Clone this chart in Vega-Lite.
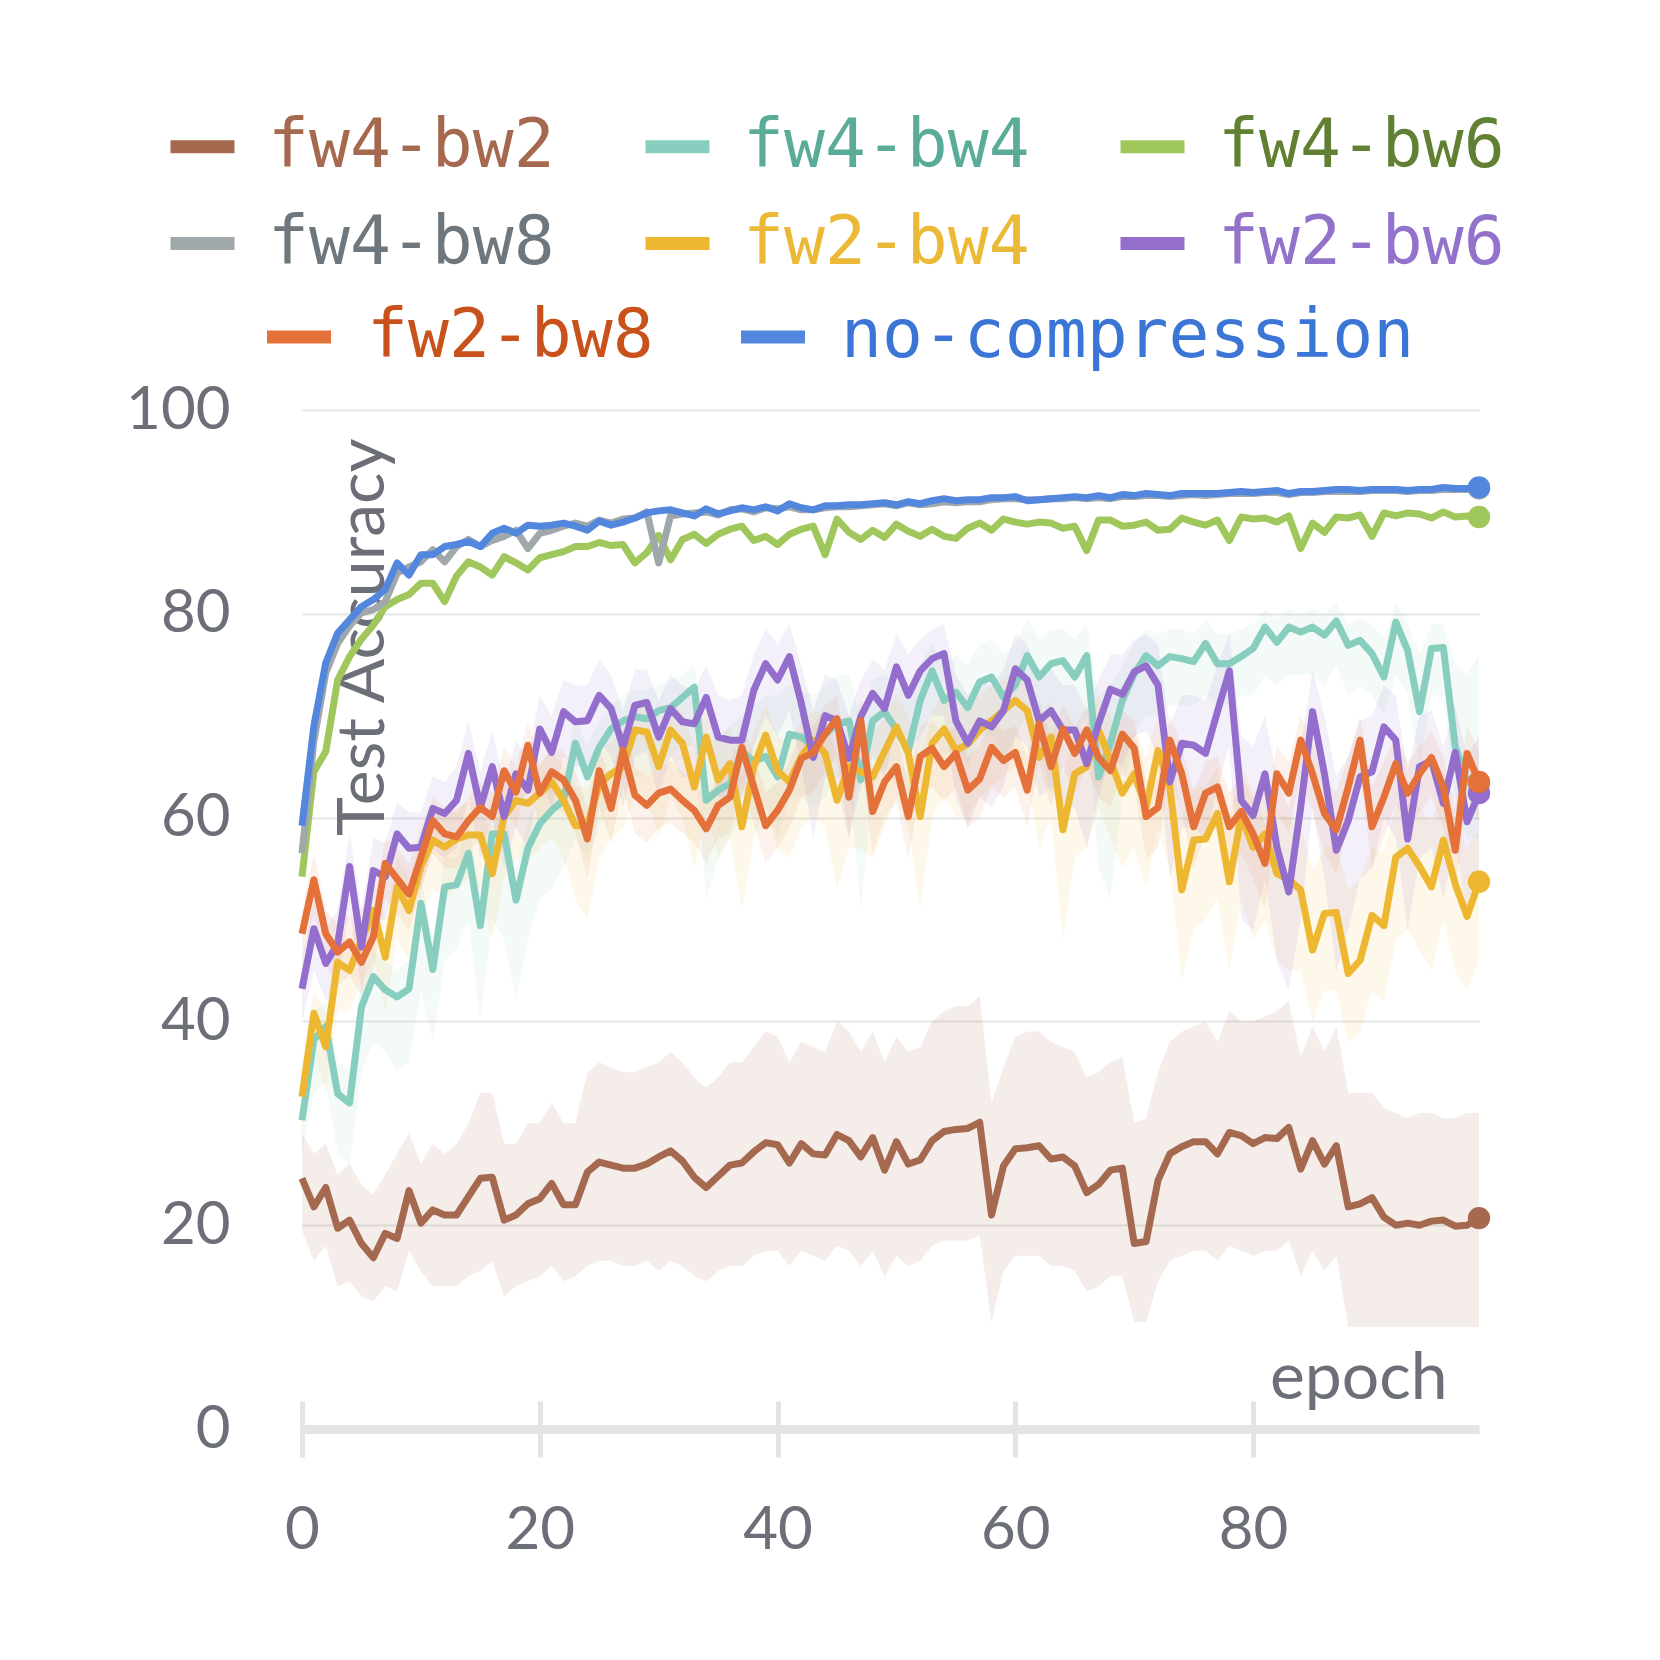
{
"$schema": "https://vega.github.io/schema/vega-lite/v6.json",
"width": 1177, "height": 1019,
"autosize": {"type": "none"},
"padding": {"left": 302, "top": 410, "right": 181, "bottom": 231},
"background": "white",
"config": {"view": {"stroke": null}},
"datasets": {"d": [
{"e":0,"fw4-bw2":24.6,"fw4-bw4":30.3,"fw4-bw6":54.2,"fw4-bw8":56.5,"fw2-bw4":32.6,"fw2-bw6":43.2,"fw2-bw8":48.6,"no-compression":59.2,"l1":19.5,"h1":29,"l2":27,"h2":33,"l5":29,"h5":36,"l6":40,"h6":46,"l7":45.5,"h7":51},
{"e":1,"fw4-bw2":21.8,"fw4-bw4":38.2,"fw4-bw6":64.5,"fw4-bw8":67.5,"fw2-bw4":40.8,"fw2-bw6":49.1,"fw2-bw8":53.9,"no-compression":69.0,"l1":16.5,"h1":27,"l2":33,"h2":41,"l5":37,"h5":43,"l6":45,"h6":52,"l7":50.5,"h7":56.5},
{"e":2,"fw4-bw2":23.7,"fw4-bw4":39.5,"fw4-bw6":66.5,"fw4-bw8":74.2,"fw2-bw4":37.5,"fw2-bw6":45.7,"fw2-bw8":48.6,"no-compression":75.2,"l1":18,"h1":28,"l2":34,"h2":42,"l5":33,"h5":41,"l6":42,"h6":49,"l7":45.5,"h7":51},
{"e":3,"fw4-bw2":19.7,"fw4-bw4":32.9,"fw4-bw6":73.5,"fw4-bw8":77.1,"fw2-bw4":45.8,"fw2-bw6":47.6,"fw2-bw8":46.8,"no-compression":78.1,"l1":14,"h1":25,"l2":27,"h2":36,"l5":41,"h5":49,"l6":44,"h6":51,"l7":43.5,"h7":49.5},
{"e":4,"fw4-bw2":20.5,"fw4-bw4":32.0,"fw4-bw6":75.8,"fw4-bw8":78.8,"fw2-bw4":45.0,"fw2-bw6":55.2,"fw2-bw8":47.8,"no-compression":79.4,"l1":14.5,"h1":26,"l2":26,"h2":35,"l5":41,"h5":48,"l6":51,"h6":58.5,"l7":44.5,"h7":50.5},
{"e":5,"fw4-bw2":18.2,"fw4-bw4":41.4,"fw4-bw6":77.5,"fw4-bw8":80.1,"fw2-bw4":48.0,"fw2-bw6":47.3,"fw2-bw8":45.8,"no-compression":80.7,"l1":13,"h1":24,"l2":35,"h2":44,"l5":44,"h5":51,"l6":43,"h6":51,"l7":42.5,"h7":48.5},
{"e":6,"fw4-bw2":16.8,"fw4-bw4":44.4,"fw4-bw6":78.9,"fw4-bw8":80.4,"fw2-bw4":50.9,"fw2-bw6":54.8,"fw2-bw8":48.3,"no-compression":81.4,"l1":12.5,"h1":23,"l2":38,"h2":47,"l5":46,"h5":54,"l6":50,"h6":58,"l7":45,"h7":51},
{"e":7,"fw4-bw2":19.2,"fw4-bw4":43.1,"fw4-bw6":80.7,"fw4-bw8":81.2,"fw2-bw4":46.3,"fw2-bw6":54.2,"fw2-bw8":55.5,"no-compression":82.4,"l1":14,"h1":25,"l2":37,"h2":46,"l5":41,"h5":50,"l6":50,"h6":57.5,"l7":52,"h7":58},
{"e":8,"fw4-bw2":18.7,"fw4-bw4":42.4,"fw4-bw6":81.4,"fw4-bw8":84.0,"fw2-bw4":53.2,"fw2-bw6":58.4,"fw2-bw8":54.0,"no-compression":85.0,"l1":13.5,"h1":27,"l2":35,"h2":45,"l5":48,"h5":56,"l6":54,"h6":61.5,"l7":50.5,"h7":57},
{"e":9,"fw4-bw2":23.4,"fw4-bw4":43.2,"fw4-bw6":81.9,"fw4-bw8":84.6,"fw2-bw4":50.9,"fw2-bw6":57.0,"fw2-bw8":52.5,"no-compression":83.8,"l1":17.5,"h1":29,"l2":36,"h2":46,"l5":46,"h5":54,"l6":53,"h6":60.5,"l7":49,"h7":55.5},
{"e":10,"fw4-bw2":20.2,"fw4-bw4":51.6,"fw4-bw6":83.0,"fw4-bw8":85.1,"fw2-bw4":55.2,"fw2-bw6":57.1,"fw2-bw8":56.1,"no-compression":85.8,"l1":15.5,"h1":26,"l2":43,"h2":54,"l5":50,"h5":58,"l6":53,"h6":60.5,"l7":53,"h7":59},
{"e":11,"fw4-bw2":21.5,"fw4-bw4":45.1,"fw4-bw6":83.0,"fw4-bw8":86.3,"fw2-bw4":57.8,"fw2-bw6":60.9,"fw2-bw8":59.7,"no-compression":85.8,"l1":14,"h1":28,"l2":38,"h2":48,"l5":53,"h5":60.5,"l6":57,"h6":64,"l7":56.5,"h7":62},
{"e":12,"fw4-bw2":21.0,"fw4-bw4":53.2,"fw4-bw6":81.2,"fw4-bw8":85.1,"fw2-bw4":57.1,"fw2-bw6":60.4,"fw2-bw8":58.4,"no-compression":86.6,"l1":14,"h1":27,"l2":46,"h2":56,"l5":52,"h5":60,"l6":56,"h6":63.5,"l7":55,"h7":61},
{"e":13,"fw4-bw2":21.0,"fw4-bw4":53.4,"fw4-bw6":83.7,"fw4-bw8":86.6,"fw2-bw4":57.9,"fw2-bw6":61.7,"fw2-bw8":58.1,"no-compression":86.8,"l1":14,"h1":28,"l2":47,"h2":56,"l5":53,"h5":61,"l6":57,"h6":65,"l7":55,"h7":60.5},
{"e":14,"fw4-bw2":22.8,"fw4-bw4":56.5,"fw4-bw6":85.1,"fw4-bw8":87.3,"fw2-bw4":58.3,"fw2-bw6":66.3,"fw2-bw8":59.7,"no-compression":87.1,"l1":15,"h1":30,"l2":50,"h2":59,"l5":54,"h5":61.5,"l6":62,"h6":69.5,"l7":56.5,"h7":62},
{"e":15,"fw4-bw2":24.6,"fw4-bw4":49.4,"fw4-bw6":84.6,"fw4-bw8":86.6,"fw2-bw4":58.3,"fw2-bw6":61.0,"fw2-bw8":61.0,"no-compression":86.6,"l1":15.5,"h1":33,"l2":40,"h2":53,"l5":53,"h5":61.5,"l6":56,"h6":64.5,"l7":58,"h7":63.5},
{"e":16,"fw4-bw2":24.7,"fw4-bw4":58.4,"fw4-bw6":83.8,"fw4-bw8":87.2,"fw2-bw4":54.5,"fw2-bw6":65.0,"fw2-bw8":60.1,"no-compression":87.9,"l1":16.5,"h1":33,"l2":50,"h2":61,"l5":48,"h5":58,"l6":60,"h6":68.5,"l7":57,"h7":62.5},
{"e":17,"fw4-bw2":20.5,"fw4-bw4":58.4,"fw4-bw6":85.6,"fw4-bw8":87.6,"fw2-bw4":60.1,"fw2-bw6":60.1,"fw2-bw8":64.6,"no-compression":88.4,"l1":13,"h1":28,"l2":48,"h2":61,"l5":54,"h5":63,"l6":55,"h6":63.5,"l7":61,"h7":67},
{"e":18,"fw4-bw2":21.0,"fw4-bw4":51.9,"fw4-bw6":85.0,"fw4-bw8":88.2,"fw2-bw4":61.7,"fw2-bw6":64.3,"fw2-bw8":62.5,"no-compression":87.9,"l1":14,"h1":28,"l2":42,"h2":55,"l5":56,"h5":64.5,"l6":59,"h6":67.5,"l7":59,"h7":65},
{"e":19,"fw4-bw2":22.1,"fw4-bw4":57.0,"fw4-bw6":84.3,"fw4-bw8":86.4,"fw2-bw4":61.4,"fw2-bw6":62.7,"fw2-bw8":67.1,"no-compression":88.7,"l1":14.5,"h1":30,"l2":48,"h2":60,"l5":56,"h5":64.5,"l6":57,"h6":66,"l7":63.5,"h7":69.5},
{"e":20,"fw4-bw2":22.6,"fw4-bw4":59.4,"fw4-bw6":85.5,"fw4-bw8":87.9,"fw2-bw4":62.4,"fw2-bw6":68.7,"fw2-bw8":62.4,"no-compression":88.6,"l1":15,"h1":30,"l2":52,"h2":62,"l5":57,"h5":65.5,"l6":64,"h6":72,"l7":59,"h7":65},
{"e":21,"fw4-bw2":24.1,"fw4-bw4":60.7,"fw4-bw6":85.8,"fw4-bw8":88.2,"fw2-bw4":63.5,"fw2-bw6":66.4,"fw2-bw8":64.5,"no-compression":88.7,"l1":16,"h1":32,"l2":53,"h2":63,"l5":58,"h5":66.5,"l6":61,"h6":70,"l7":61,"h7":67},
{"e":22,"fw4-bw2":22.0,"fw4-bw4":61.7,"fw4-bw6":86.1,"fw4-bw8":88.6,"fw2-bw4":61.7,"fw2-bw6":70.4,"fw2-bw8":63.7,"no-compression":88.9,"l1":14.5,"h1":30,"l2":55,"h2":64,"l5":56,"h5":65,"l6":66,"h6":73.5,"l7":60.5,"h7":66.5},
{"e":23,"fw4-bw2":22.0,"fw4-bw4":67.3,"fw4-bw6":86.6,"fw4-bw8":88.9,"fw2-bw4":59.2,"fw2-bw6":69.4,"fw2-bw8":61.7,"no-compression":88.6,"l1":15,"h1":30,"l2":58,"h2":70,"l5":52,"h5":63,"l6":65,"h6":73,"l7":58.5,"h7":64.5},
{"e":24,"fw4-bw2":25.2,"fw4-bw4":64.0,"fw4-bw6":86.6,"fw4-bw8":88.6,"fw2-bw4":59.2,"fw2-bw6":69.5,"fw2-bw8":57.9,"no-compression":88.2,"l1":16,"h1":35,"l2":56,"h2":67,"l5":50,"h5":63,"l6":65,"h6":73,"l7":54,"h7":61},
{"e":25,"fw4-bw2":26.2,"fw4-bw4":66.9,"fw4-bw6":87.0,"fw4-bw8":89.2,"fw2-bw4":63.3,"fw2-bw6":72.0,"fw2-bw8":64.6,"no-compression":89.1,"l1":16.5,"h1":36,"l2":59,"h2":69.5,"l5":56,"h5":66.5,"l6":67.5,"h6":75.5,"l7":61,"h7":67},
{"e":26,"fw4-bw2":25.9,"fw4-bw4":68.7,"fw4-bw6":86.7,"fw4-bw8":88.9,"fw2-bw4":64.3,"fw2-bw6":70.7,"fw2-bw8":60.9,"no-compression":88.7,"l1":16.5,"h1":35.5,"l2":62,"h2":71,"l5":58,"h5":67.5,"l6":66,"h6":74,"l7":57.5,"h7":63.5},
{"e":27,"fw4-bw2":25.6,"fw4-bw4":69.5,"fw4-bw6":86.8,"fw4-bw8":89.3,"fw2-bw4":65.0,"fw2-bw6":66.9,"fw2-bw8":66.6,"no-compression":89.0,"l1":16,"h1":35,"l2":64,"h2":72,"l5":59,"h5":68,"l6":61,"h6":70.5,"l7":63,"h7":69},
{"e":28,"fw4-bw2":25.6,"fw4-bw4":69.9,"fw4-bw6":85.0,"fw4-bw8":89.4,"fw2-bw4":68.6,"fw2-bw6":71.0,"fw2-bw8":62.2,"no-compression":89.4,"l1":16,"h1":35,"l2":64,"h2":72.5,"l5":62,"h5":71,"l6":66,"h6":74.5,"l7":58.5,"h7":65},
{"e":29,"fw4-bw2":26.0,"fw4-bw4":69.7,"fw4-bw6":86.0,"fw4-bw8":90.0,"fw2-bw4":68.4,"fw2-bw6":71.3,"fw2-bw8":61.2,"no-compression":89.9,"l1":16.5,"h1":35.5,"l2":64,"h2":72.5,"l5":62,"h5":71,"l6":66.5,"h6":74.5,"l7":57.5,"h7":64},
{"e":30,"fw4-bw2":26.7,"fw4-bw4":70.5,"fw4-bw6":87.7,"fw4-bw8":85.0,"fw2-bw4":65.0,"fw2-bw6":67.9,"fw2-bw8":62.4,"no-compression":90.1,"l1":15.5,"h1":36,"l2":65,"h2":73,"l5":58,"h5":68.5,"l6":62,"h6":71.5,"l7":59,"h7":65},
{"e":31,"fw4-bw2":27.3,"fw4-bw4":70.8,"fw4-bw6":85.3,"fw4-bw8":89.6,"fw2-bw4":68.6,"fw2-bw6":70.7,"fw2-bw8":62.8,"no-compression":90.2,"l1":16.5,"h1":37,"l2":66,"h2":73.5,"l5":62,"h5":71,"l6":66,"h6":74,"l7":59.5,"h7":65.5},
{"e":32,"fw4-bw2":26.3,"fw4-bw4":71.8,"fw4-bw6":87.3,"fw4-bw8":89.8,"fw2-bw4":67.3,"fw2-bw6":69.4,"fw2-bw8":61.7,"no-compression":89.9,"l1":16,"h1":36,"l2":67,"h2":74,"l5":60,"h5":70.5,"l6":64,"h6":73,"l7":58.5,"h7":64.5},
{"e":33,"fw4-bw2":24.7,"fw4-bw4":72.8,"fw4-bw6":87.8,"fw4-bw8":89.9,"fw2-bw4":63.0,"fw2-bw6":69.2,"fw2-bw8":60.7,"no-compression":89.6,"l1":15,"h1":34.5,"l2":67,"h2":75,"l5":55,"h5":67,"l6":64,"h6":72.5,"l7":57.5,"h7":63.5},
{"e":34,"fw4-bw2":23.7,"fw4-bw4":61.7,"fw4-bw6":86.9,"fw4-bw8":90.0,"fw2-bw4":67.9,"fw2-bw6":71.8,"fw2-bw8":58.9,"no-compression":90.3,"l1":14.5,"h1":33.5,"l2":52,"h2":67,"l5":61,"h5":71,"l6":67,"h6":75,"l7":55.5,"h7":62},
{"e":35,"fw4-bw2":24.8,"fw4-bw4":62.7,"fw4-bw6":87.8,"fw4-bw8":89.7,"fw2-bw4":63.7,"fw2-bw6":67.9,"fw2-bw8":61.2,"no-compression":89.8,"l1":15.5,"h1":34.5,"l2":56,"h2":68,"l5":56,"h5":67.5,"l6":62,"h6":72,"l7":58,"h7":64},
{"e":36,"fw4-bw2":25.9,"fw4-bw4":63.3,"fw4-bw6":88.3,"fw4-bw8":90.2,"fw2-bw4":65.3,"fw2-bw6":67.6,"fw2-bw8":62.0,"no-compression":90.1,"l1":16,"h1":36,"l2":58,"h2":69,"l5":58,"h5":69,"l6":62,"h6":71.5,"l7":58.5,"h7":65},
{"e":37,"fw4-bw2":26.1,"fw4-bw4":66.5,"fw4-bw6":88.6,"fw4-bw8":90.3,"fw2-bw4":59.1,"fw2-bw6":67.6,"fw2-bw8":66.9,"no-compression":90.4,"l1":16,"h1":36,"l2":60,"h2":70,"l5":51,"h5":64,"l6":62,"h6":72,"l7":63,"h7":69.5},
{"e":38,"fw4-bw2":27.2,"fw4-bw4":65.5,"fw4-bw6":87.2,"fw4-bw8":90.0,"fw2-bw4":65.0,"fw2-bw6":72.5,"fw2-bw8":63.0,"no-compression":90.2,"l1":17,"h1":37.5,"l2":60,"h2":71,"l5":58,"h5":68.5,"l6":67,"h6":76,"l7":59.5,"h7":66},
{"e":39,"fw4-bw2":28.1,"fw4-bw4":66.0,"fw4-bw6":87.6,"fw4-bw8":90.4,"fw2-bw4":68.1,"fw2-bw6":75.1,"fw2-bw8":59.2,"no-compression":90.5,"l1":17.5,"h1":39,"l2":61,"h2":72,"l5":61,"h5":71,"l6":70,"h6":78.5,"l7":55.5,"h7":62.5},
{"e":40,"fw4-bw2":27.9,"fw4-bw4":64.0,"fw4-bw6":86.8,"fw4-bw8":90.3,"fw2-bw4":64.6,"fw2-bw6":73.5,"fw2-bw8":60.7,"no-compression":90.1,"l1":17.5,"h1":38.5,"l2":58,"h2":72,"l5":57,"h5":68,"l6":68,"h6":77,"l7":57,"h7":63.5},
{"e":41,"fw4-bw2":26.1,"fw4-bw4":68.2,"fw4-bw6":87.8,"fw4-bw8":90.5,"fw2-bw4":63.5,"fw2-bw6":75.8,"fw2-bw8":62.7,"no-compression":90.8,"l1":16,"h1":36,"l2":62,"h2":73,"l5":56,"h5":67.5,"l6":70.5,"h6":79,"l7":59,"h7":65.5},
{"e":42,"fw4-bw2":28.0,"fw4-bw4":67.9,"fw4-bw6":88.3,"fw4-bw8":90.2,"fw2-bw4":66.0,"fw2-bw6":71.2,"fw2-bw8":65.8,"no-compression":90.4,"l1":17.5,"h1":38,"l2":62,"h2":72.5,"l5":59,"h5":69.5,"l6":65,"h6":75,"l7":62,"h7":68.5},
{"e":43,"fw4-bw2":27.0,"fw4-bw4":67.0,"fw4-bw6":88.6,"fw4-bw8":90.2,"fw2-bw4":67.6,"fw2-bw6":65.9,"fw2-bw8":66.4,"no-compression":90.2,"l1":17,"h1":37.5,"l2":61,"h2":72,"l5":60,"h5":70.5,"l6":58,"h6":70.5,"l7":62.5,"h7":69},
{"e":44,"fw4-bw2":26.9,"fw4-bw4":68.2,"fw4-bw6":85.8,"fw4-bw8":90.4,"fw2-bw4":66.3,"fw2-bw6":70.0,"fw2-bw8":68.2,"no-compression":90.6,"l1":16.5,"h1":37,"l2":62,"h2":73,"l5":59,"h5":70,"l6":64,"h6":74,"l7":64.5,"h7":71},
{"e":45,"fw4-bw2":28.9,"fw4-bw4":69.2,"fw4-bw6":89.3,"fw4-bw8":90.5,"fw2-bw4":61.7,"fw2-bw6":69.5,"fw2-bw8":69.7,"no-compression":90.6,"l1":18,"h1":40,"l2":64,"h2":74,"l5":53,"h5":66,"l6":63,"h6":73.5,"l7":66,"h7":72},
{"e":46,"fw4-bw2":28.3,"fw4-bw4":69.5,"fw4-bw6":88.0,"fw4-bw8":90.5,"fw2-bw4":65.0,"fw2-bw6":65.8,"fw2-bw8":62.0,"no-compression":90.7,"l1":17.5,"h1":39,"l2":64,"h2":74,"l5":57,"h5":68.5,"l6":58,"h6":70,"l7":58,"h7":65},
{"e":47,"fw4-bw2":26.7,"fw4-bw4":63.7,"fw4-bw6":87.3,"fw4-bw8":90.6,"fw2-bw4":64.5,"fw2-bw6":69.9,"fw2-bw8":69.5,"no-compression":90.7,"l1":16,"h1":37,"l2":51,"h2":70,"l5":57,"h5":68,"l6":63,"h6":73.5,"l7":66,"h7":72},
{"e":48,"fw4-bw2":28.6,"fw4-bw4":69.5,"fw4-bw6":88.2,"fw4-bw8":90.7,"fw2-bw4":64.0,"fw2-bw6":72.2,"fw2-bw8":60.6,"no-compression":90.8,"l1":17.5,"h1":39,"l2":63,"h2":73.5,"l5":56,"h5":68,"l6":66,"h6":75.5,"l7":56.5,"h7":64},
{"e":49,"fw4-bw2":25.4,"fw4-bw4":70.4,"fw4-bw6":87.5,"fw4-bw8":90.8,"fw2-bw4":66.5,"fw2-bw6":70.7,"fw2-bw8":63.5,"no-compression":90.9,"l1":15,"h1":36,"l2":65,"h2":74,"l5":59,"h5":70,"l6":64,"h6":74.5,"l7":60,"h7":66.5},
{"e":50,"fw4-bw2":28.2,"fw4-bw4":68.6,"fw4-bw6":88.8,"fw4-bw8":90.6,"fw2-bw4":68.9,"fw2-bw6":74.8,"fw2-bw8":65.0,"no-compression":90.7,"l1":17,"h1":38.5,"l2":63,"h2":73,"l5":62,"h5":72,"l6":69,"h6":78,"l7":61.5,"h7":68},
{"e":51,"fw4-bw2":26.0,"fw4-bw4":66.6,"fw4-bw6":88.1,"fw4-bw8":90.9,"fw2-bw4":66.3,"fw2-bw6":72.0,"fw2-bw8":60.1,"no-compression":91.0,"l1":16,"h1":37,"l2":60,"h2":72,"l5":59,"h5":70,"l6":66,"h6":76,"l7":56,"h7":63.5},
{"e":52,"fw4-bw2":26.4,"fw4-bw4":71.5,"fw4-bw6":87.6,"fw4-bw8":90.7,"fw2-bw4":60.1,"fw2-bw6":74.4,"fw2-bw8":66.0,"no-compression":90.8,"l1":16.5,"h1":37.5,"l2":66,"h2":75,"l5":51,"h5":65,"l6":68,"h6":77.5,"l7":62.5,"h7":69},
{"e":53,"fw4-bw2":28.3,"fw4-bw4":74.4,"fw4-bw6":88.3,"fw4-bw8":90.8,"fw2-bw4":67.3,"fw2-bw6":75.6,"fw2-bw8":66.8,"no-compression":91.1,"l1":18,"h1":40,"l2":68,"h2":77,"l5":60,"h5":70.5,"l6":70,"h6":78.5,"l7":63,"h7":69.5},
{"e":54,"fw4-bw2":29.2,"fw4-bw4":71.5,"fw4-bw6":87.6,"fw4-bw8":91.0,"fw2-bw4":68.7,"fw2-bw6":76.1,"fw2-bw8":65.0,"no-compression":91.3,"l1":18.5,"h1":41,"l2":66,"h2":75,"l5":62,"h5":72,"l6":70,"h6":79,"l7":61.5,"h7":68},
{"e":55,"fw4-bw2":29.4,"fw4-bw4":72.3,"fw4-bw6":87.4,"fw4-bw8":90.9,"fw2-bw4":66.6,"fw2-bw6":69.5,"fw2-bw8":66.3,"no-compression":91.1,"l1":18.5,"h1":41.5,"l2":67,"h2":76,"l5":60,"h5":70.5,"l6":62,"h6":74,"l7":63,"h7":69},
{"e":56,"fw4-bw2":29.5,"fw4-bw4":70.8,"fw4-bw6":88.4,"fw4-bw8":91.0,"fw2-bw4":67.2,"fw2-bw6":67.3,"fw2-bw8":62.7,"no-compression":91.2,"l1":18.5,"h1":41.5,"l2":65,"h2":75,"l5":60,"h5":71,"l6":59,"h6":72,"l7":59,"h7":66},
{"e":57,"fw4-bw2":30.1,"fw4-bw4":73.3,"fw4-bw6":88.9,"fw4-bw8":91.0,"fw2-bw4":68.6,"fw2-bw6":69.5,"fw2-bw8":63.8,"no-compression":91.2,"l1":19,"h1":42.5,"l2":68,"h2":77,"l5":62,"h5":72,"l6":62,"h6":73.5,"l7":60,"h7":67},
{"e":58,"fw4-bw2":21.0,"fw4-bw4":73.8,"fw4-bw6":88.2,"fw4-bw8":91.2,"fw2-bw4":69.5,"fw2-bw6":68.9,"fw2-bw8":66.9,"no-compression":91.4,"l1":10.5,"h1":32,"l2":68,"h2":77.5,"l5":63,"h5":73,"l6":61,"h6":73,"l7":63,"h7":69.5},
{"e":59,"fw4-bw2":25.8,"fw4-bw4":71.8,"fw4-bw6":89.3,"fw4-bw8":91.3,"fw2-bw4":70.5,"fw2-bw6":70.5,"fw2-bw8":65.6,"no-compression":91.4,"l1":15.5,"h1":35.5,"l2":66,"h2":76,"l5":64,"h5":73.5,"l6":63,"h6":74.5,"l7":62,"h7":68.5},
{"e":60,"fw4-bw2":27.5,"fw4-bw4":73.0,"fw4-bw6":89.0,"fw4-bw8":91.3,"fw2-bw4":71.5,"fw2-bw6":74.6,"fw2-bw8":66.4,"no-compression":91.5,"l1":17,"h1":38.5,"l2":68,"h2":77,"l5":65,"h5":74.5,"l6":68,"h6":78,"l7":63,"h7":69},
{"e":61,"fw4-bw2":27.6,"fw4-bw4":75.9,"fw4-bw6":88.8,"fw4-bw8":91.2,"fw2-bw4":70.5,"fw2-bw6":73.5,"fw2-bw8":62.7,"no-compression":91.1,"l1":17,"h1":39,"l2":70,"h2":79.5,"l5":64,"h5":74,"l6":67,"h6":77,"l7":59,"h7":66},
{"e":62,"fw4-bw2":27.8,"fw4-bw4":73.8,"fw4-bw6":89.0,"fw4-bw8":91.2,"fw2-bw4":65.9,"fw2-bw6":69.5,"fw2-bw8":69.2,"no-compression":91.2,"l1":17,"h1":39,"l2":68,"h2":77.5,"l5":57,"h5":70,"l6":62,"h6":73.5,"l7":65.5,"h7":71.5},
{"e":63,"fw4-bw2":26.5,"fw4-bw4":75.1,"fw4-bw6":88.9,"fw4-bw8":91.3,"fw2-bw4":67.9,"fw2-bw6":70.5,"fw2-bw8":65.0,"no-compression":91.3,"l1":16,"h1":38,"l2":62,"h2":78.5,"l5":60,"h5":71.5,"l6":63,"h6":74.5,"l7":61,"h7":68},
{"e":64,"fw4-bw2":26.7,"fw4-bw4":75.4,"fw4-bw6":88.4,"fw4-bw8":91.3,"fw2-bw4":58.8,"fw2-bw6":68.6,"fw2-bw8":68.7,"no-compression":91.4,"l1":16,"h1":37.5,"l2":69,"h2":78.5,"l5":48,"h5":64,"l6":61,"h6":73,"l7":65,"h7":71},
{"e":65,"fw4-bw2":25.8,"fw4-bw4":73.8,"fw4-bw6":88.6,"fw4-bw8":91.4,"fw2-bw4":64.3,"fw2-bw6":68.6,"fw2-bw8":66.3,"no-compression":91.5,"l1":15.5,"h1":37,"l2":68,"h2":77.5,"l5":56,"h5":68.5,"l6":61,"h6":73,"l7":62.5,"h7":69},
{"e":66,"fw4-bw2":23.2,"fw4-bw4":75.9,"fw4-bw6":86.2,"fw4-bw8":91.3,"fw2-bw4":65.0,"fw2-bw6":65.3,"fw2-bw8":68.6,"no-compression":91.4,"l1":13.5,"h1":34.5,"l2":70,"h2":79,"l5":57,"h5":69,"l6":57,"h6":70.5,"l7":65,"h7":71},
{"e":67,"fw4-bw2":24.0,"fw4-bw4":64.0,"fw4-bw6":89.2,"fw4-bw8":91.4,"fw2-bw4":68.6,"fw2-bw6":69.2,"fw2-bw8":65.9,"no-compression":91.6,"l1":14,"h1":35,"l2":55,"h2":72,"l5":61,"h5":72,"l6":62,"h6":73.5,"l7":62,"h7":68.5},
{"e":68,"fw4-bw2":25.4,"fw4-bw4":67.3,"fw4-bw6":89.2,"fw4-bw8":91.3,"fw2-bw4":65.6,"fw2-bw6":72.6,"fw2-bw8":64.6,"no-compression":91.4,"l1":15,"h1":36,"l2":52,"h2":73,"l5":58,"h5":70,"l6":66,"h6":76,"l7":61,"h7":67.5},
{"e":69,"fw4-bw2":25.6,"fw4-bw4":71.5,"fw4-bw6":88.6,"fw4-bw8":91.5,"fw2-bw4":62.4,"fw2-bw6":72.1,"fw2-bw8":68.2,"no-compression":91.7,"l1":15,"h1":36.5,"l2":62,"h2":75,"l5":55,"h5":67,"l6":65,"h6":76,"l7":64.5,"h7":70.5},
{"e":70,"fw4-bw2":18.2,"fw4-bw4":74.1,"fw4-bw6":88.7,"fw4-bw8":91.5,"fw2-bw4":64.3,"fw2-bw6":74.3,"fw2-bw8":66.8,"no-compression":91.6,"l1":10.5,"h1":30,"l2":68,"h2":77,"l5":57,"h5":68.5,"l6":68,"h6":77.5,"l7":63,"h7":69.5},
{"e":71,"fw4-bw2":18.4,"fw4-bw4":75.9,"fw4-bw6":89.0,"fw4-bw8":91.6,"fw2-bw4":61.0,"fw2-bw6":74.9,"fw2-bw8":60.1,"no-compression":91.8,"l1":10.5,"h1":30.5,"l2":70,"h2":78.5,"l5":53,"h5":66,"l6":68.5,"h6":78,"l7":56,"h7":63.5},
{"e":72,"fw4-bw2":24.4,"fw4-bw4":74.9,"fw4-bw6":88.2,"fw4-bw8":91.6,"fw2-bw4":66.6,"fw2-bw6":73.0,"fw2-bw8":61.0,"no-compression":91.7,"l1":14.5,"h1":35,"l2":70,"h2":78,"l5":59,"h5":70,"l6":66,"h6":77,"l7":57,"h7":64},
{"e":73,"fw4-bw2":27.0,"fw4-bw4":75.8,"fw4-bw6":88.3,"fw4-bw8":91.5,"fw2-bw4":63.0,"fw2-bw6":63.5,"fw2-bw8":67.6,"no-compression":91.6,"l1":16.5,"h1":38,"l2":71,"h2":78.5,"l5":55,"h5":67.5,"l6":54,"h6":69,"l7":64,"h7":70},
{"e":74,"fw4-bw2":27.7,"fw4-bw4":75.6,"fw4-bw6":89.4,"fw4-bw8":91.6,"fw2-bw4":52.9,"fw2-bw6":67.3,"fw2-bw8":64.3,"no-compression":91.8,"l1":17,"h1":39,"l2":71,"h2":78.5,"l5":44,"h5":60,"l6":59,"h6":72,"l7":60.5,"h7":67},
{"e":75,"fw4-bw2":28.2,"fw4-bw4":75.3,"fw4-bw6":89.0,"fw4-bw8":91.7,"fw2-bw4":57.8,"fw2-bw6":67.1,"fw2-bw8":59.1,"no-compression":91.8,"l1":17.5,"h1":39.5,"l2":71,"h2":78,"l5":49,"h5":63,"l6":59,"h6":72,"l7":55,"h7":62.5},
{"e":76,"fw4-bw2":28.2,"fw4-bw4":77.1,"fw4-bw6":88.7,"fw4-bw8":91.6,"fw2-bw4":57.9,"fw2-bw6":66.3,"fw2-bw8":62.4,"no-compression":91.8,"l1":17.5,"h1":40,"l2":72,"h2":79.5,"l5":50,"h5":63,"l6":58,"h6":71.5,"l7":58.5,"h7":65.5},
{"e":77,"fw4-bw2":27.0,"fw4-bw4":75.1,"fw4-bw6":89.2,"fw4-bw8":91.7,"fw2-bw4":60.4,"fw2-bw6":70.4,"fw2-bw8":63.0,"no-compression":91.8,"l1":16.5,"h1":38,"l2":71,"h2":78,"l5":52,"h5":65,"l6":63,"h6":75,"l7":59,"h7":66},
{"e":78,"fw4-bw2":29.1,"fw4-bw4":75.1,"fw4-bw6":87.2,"fw4-bw8":91.8,"fw2-bw4":53.7,"fw2-bw6":74.4,"fw2-bw8":59.1,"no-compression":91.9,"l1":18,"h1":41,"l2":71,"h2":78,"l5":45,"h5":60,"l6":67,"h6":78,"l7":55,"h7":62.5},
{"e":79,"fw4-bw2":28.8,"fw4-bw4":75.8,"fw4-bw6":89.5,"fw4-bw8":91.8,"fw2-bw4":60.1,"fw2-bw6":61.7,"fw2-bw8":60.6,"no-compression":92.0,"l1":17.5,"h1":40,"l2":72,"h2":78.5,"l5":52,"h5":65,"l6":50,"h6":68,"l7":56.5,"h7":64},
{"e":80,"fw4-bw2":28.0,"fw4-bw4":76.6,"fw4-bw6":89.3,"fw4-bw8":91.8,"fw2-bw4":57.1,"fw2-bw6":60.2,"fw2-bw8":58.4,"no-compression":91.9,"l1":17,"h1":40,"l2":72,"h2":79,"l5":48,"h5":62.5,"l6":49,"h6":67,"l7":54,"h7":62},
{"e":81,"fw4-bw2":28.6,"fw4-bw4":78.7,"fw4-bw6":89.4,"fw4-bw8":91.9,"fw2-bw4":58.4,"fw2-bw6":64.3,"fw2-bw8":55.5,"no-compression":92.0,"l1":17.5,"h1":40.5,"l2":74,"h2":80.5,"l5":50,"h5":63.5,"l6":54,"h6":70,"l7":51,"h7":59.5},
{"e":82,"fw4-bw2":28.5,"fw4-bw4":77.2,"fw4-bw6":89.0,"fw4-bw8":91.9,"fw2-bw4":54.5,"fw2-bw6":57.1,"fw2-bw8":64.3,"no-compression":92.1,"l1":17.5,"h1":41,"l2":73,"h2":79.5,"l5":46,"h5":60.5,"l6":46,"h6":64,"l7":60.5,"h7":67},
{"e":83,"fw4-bw2":29.6,"fw4-bw4":78.7,"fw4-bw6":89.6,"fw4-bw8":91.7,"fw2-bw4":53.9,"fw2-bw6":52.7,"fw2-bw8":62.4,"no-compression":91.8,"l1":18.5,"h1":42,"l2":74,"h2":80.5,"l5":45,"h5":60,"l6":43,"h6":61,"l7":58.5,"h7":65.5},
{"e":84,"fw4-bw2":25.5,"fw4-bw4":78.2,"fw4-bw6":86.4,"fw4-bw8":91.9,"fw2-bw4":52.9,"fw2-bw6":61.0,"fw2-bw8":67.6,"no-compression":92.0,"l1":15,"h1":36.5,"l2":74,"h2":80,"l5":45,"h5":59,"l6":50,"h6":67,"l7":64,"h7":70},
{"e":85,"fw4-bw2":28.3,"fw4-bw4":78.7,"fw4-bw6":88.9,"fw4-bw8":91.9,"fw2-bw4":47.0,"fw2-bw6":70.4,"fw2-bw8":64.3,"no-compression":92.0,"l1":17.5,"h1":39.5,"l2":74,"h2":80.5,"l5":40,"h5":55,"l6":61,"h6":74.5,"l7":60.5,"h7":67.5},
{"e":86,"fw4-bw2":26.0,"fw4-bw4":77.9,"fw4-bw6":88.0,"fw4-bw8":92.0,"fw2-bw4":50.6,"fw2-bw6":64.3,"fw2-bw8":60.4,"no-compression":92.1,"l1":15.5,"h1":37,"l2":73,"h2":80,"l5":43,"h5":57,"l6":54,"h6":70,"l7":56.5,"h7":64},
{"e":87,"fw4-bw2":27.8,"fw4-bw4":79.3,"fw4-bw6":89.5,"fw4-bw8":92.0,"fw2-bw4":50.7,"fw2-bw6":56.8,"fw2-bw8":58.8,"no-compression":92.2,"l1":17,"h1":39.5,"l2":75,"h2":81,"l5":43,"h5":57.5,"l6":45,"h6":64,"l7":54.5,"h7":62.5},
{"e":88,"fw4-bw2":21.8,"fw4-bw4":76.9,"fw4-bw6":89.4,"fw4-bw8":92.0,"fw2-bw4":44.7,"fw2-bw6":59.7,"fw2-bw8":63.0,"no-compression":92.2,"l1":10,"h1":33,"l2":72,"h2":79,"l5":38,"h5":53,"l6":49,"h6":66,"l7":59,"h7":66},
{"e":89,"fw4-bw2":22.1,"fw4-bw4":77.4,"fw4-bw6":89.7,"fw4-bw8":92.0,"fw2-bw4":46.0,"fw2-bw6":64.0,"fw2-bw8":67.6,"no-compression":92.1,"l1":10,"h1":33,"l2":73,"h2":79.5,"l5":39,"h5":54,"l6":54,"h6":69.5,"l7":64,"h7":70},
{"e":90,"fw4-bw2":22.7,"fw4-bw4":76.1,"fw4-bw6":87.6,"fw4-bw8":92.1,"fw2-bw4":50.4,"fw2-bw6":64.5,"fw2-bw8":59.1,"no-compression":92.2,"l1":10,"h1":33,"l2":72,"h2":79,"l5":43,"h5":57,"l6":55,"h6":70,"l7":55,"h7":63},
{"e":91,"fw4-bw2":20.8,"fw4-bw4":73.8,"fw4-bw6":89.9,"fw4-bw8":92.1,"fw2-bw4":49.4,"fw2-bw6":68.9,"fw2-bw8":62.0,"no-compression":92.2,"l1":10,"h1":31.5,"l2":70,"h2":77.5,"l5":42,"h5":56.5,"l6":60,"h6":73,"l7":58,"h7":65.5},
{"e":92,"fw4-bw2":20.0,"fw4-bw4":79.2,"fw4-bw6":89.6,"fw4-bw8":92.1,"fw2-bw4":56.1,"fw2-bw6":67.6,"fw2-bw8":65.3,"no-compression":92.2,"l1":10,"h1":31,"l2":74,"h2":81,"l5":48,"h5":61.5,"l6":58,"h6":72,"l7":61.5,"h7":68},
{"e":93,"fw4-bw2":20.2,"fw4-bw4":76.4,"fw4-bw6":89.9,"fw4-bw8":92.0,"fw2-bw4":57.0,"fw2-bw6":57.9,"fw2-bw8":62.4,"no-compression":92.1,"l1":10,"h1":30.5,"l2":72,"h2":79,"l5":49,"h5":62,"l6":49,"h6":64.5,"l7":58.5,"h7":65.5},
{"e":94,"fw4-bw2":20.0,"fw4-bw4":70.4,"fw4-bw6":89.8,"fw4-bw8":92.1,"fw2-bw4":55.2,"fw2-bw6":65.0,"fw2-bw8":64.3,"no-compression":92.2,"l1":10,"h1":31,"l2":65,"h2":76,"l5":47,"h5":61,"l6":56,"h6":70,"l7":60.5,"h7":67},
{"e":95,"fw4-bw2":20.4,"fw4-bw4":76.6,"fw4-bw6":89.4,"fw4-bw8":92.1,"fw2-bw4":53.2,"fw2-bw6":65.6,"fw2-bw8":65.9,"no-compression":92.2,"l1":10,"h1":31,"l2":72,"h2":79,"l5":45,"h5":59.5,"l6":57,"h6":70.5,"l7":62,"h7":68.5},
{"e":96,"fw4-bw2":20.5,"fw4-bw4":76.7,"fw4-bw6":90.0,"fw4-bw8":92.2,"fw2-bw4":57.8,"fw2-bw6":61.4,"fw2-bw8":63.0,"no-compression":92.4,"l1":10,"h1":30.5,"l2":72,"h2":79,"l5":50,"h5":63,"l6":52,"h6":67,"l7":59,"h7":66},
{"e":97,"fw4-bw2":19.9,"fw4-bw4":67.0,"fw4-bw6":89.5,"fw4-bw8":92.2,"fw2-bw4":53.5,"fw2-bw6":66.4,"fw2-bw8":56.8,"no-compression":92.3,"l1":10,"h1":30.5,"l2":62,"h2":75,"l5":45,"h5":59.5,"l6":58,"h6":71,"l7":52,"h7":61},
{"e":98,"fw4-bw2":20.0,"fw4-bw4":63.5,"fw4-bw6":89.6,"fw4-bw8":92.2,"fw2-bw4":50.3,"fw2-bw6":59.6,"fw2-bw8":66.3,"no-compression":92.3,"l1":10,"h1":31,"l2":58,"h2":74,"l5":43,"h5":57,"l6":50,"h6":66,"l7":62.5,"h7":69},
{"e":99,"fw4-bw2":20.7,"fw4-bw4":63.3,"fw4-bw6":89.5,"fw4-bw8":92.3,"fw2-bw4":53.7,"fw2-bw6":62.4,"fw2-bw8":63.5,"no-compression":92.4,"l1":10,"h1":31,"l2":58,"h2":76,"l5":46,"h5":59,"l6":54,"h6":68,"l7":59.5,"h7":66.5}
]},
"data": {"name": "d"},
"layer": [
{"mark": {"type": "area", "color": "#a5694f", "opacity": 0.12},
 "encoding": {"x": {"field": "e", "type": "quantitative", "scale": {"domain": [0, 99], "nice": false}, "axis": null},
  "y": {"field": "l1", "type": "quantitative", "scale": {"domain": [0, 100], "nice": false},
   "axis": {"values": [0, 20, 40, 60, 80, 100], "grid": true, "gridColor": "#e6e6e6", "gridWidth": 2, "domain": false, "ticks": false, "tickSize": 0, "labelFont": "Lato", "labelFontSize": 60, "labelColor": "#6c6e78", "labelPadding": 72, "title": "Test Accuracy", "titleFont": "Lato", "titleFontSize": 66, "titleFontWeight": "normal", "titleColor": "#6c6e78", "titleAngle": 270, "titleX": 81, "titleY": 28, "titleAlign": "right", "titleBaseline": "alphabetic"}},
  "y2": {"field": "h1"}}},
{"mark": {"type": "area", "color": "#87cebf", "opacity": 0.1},
 "encoding": {"x": {"field": "e", "type": "quantitative", "scale": {"domain": [0, 99], "nice": false}, "axis": null},
  "y": {"field": "l2", "type": "quantitative", "scale": {"domain": [0, 100], "nice": false}, "axis": {"values": [0, 20, 40, 60, 80, 100], "grid": true, "gridColor": "#e6e6e6", "gridWidth": 2, "domain": false, "ticks": false, "tickSize": 0, "labelFont": "Lato", "labelFontSize": 60, "labelColor": "#6c6e78", "labelPadding": 72, "title": "Test Accuracy", "titleFont": "Lato", "titleFontSize": 66, "titleFontWeight": "normal", "titleColor": "#6c6e78", "titleAngle": 270, "titleX": 81, "titleY": 28, "titleAlign": "right", "titleBaseline": "alphabetic"}}, "y2": {"field": "h2"}}},
{"mark": {"type": "area", "color": "#edb732", "opacity": 0.1},
 "encoding": {"x": {"field": "e", "type": "quantitative", "scale": {"domain": [0, 99], "nice": false}, "axis": null},
  "y": {"field": "l5", "type": "quantitative", "scale": {"domain": [0, 100], "nice": false}, "axis": {"values": [0, 20, 40, 60, 80, 100], "grid": true, "gridColor": "#e6e6e6", "gridWidth": 2, "domain": false, "ticks": false, "tickSize": 0, "labelFont": "Lato", "labelFontSize": 60, "labelColor": "#6c6e78", "labelPadding": 72, "title": "Test Accuracy", "titleFont": "Lato", "titleFontSize": 66, "titleFontWeight": "normal", "titleColor": "#6c6e78", "titleAngle": 270, "titleX": 81, "titleY": 28, "titleAlign": "right", "titleBaseline": "alphabetic"}}, "y2": {"field": "h5"}}},
{"mark": {"type": "area", "color": "#936ecc", "opacity": 0.1},
 "encoding": {"x": {"field": "e", "type": "quantitative", "scale": {"domain": [0, 99], "nice": false}, "axis": null},
  "y": {"field": "l6", "type": "quantitative", "scale": {"domain": [0, 100], "nice": false}, "axis": {"values": [0, 20, 40, 60, 80, 100], "grid": true, "gridColor": "#e6e6e6", "gridWidth": 2, "domain": false, "ticks": false, "tickSize": 0, "labelFont": "Lato", "labelFontSize": 60, "labelColor": "#6c6e78", "labelPadding": 72, "title": "Test Accuracy", "titleFont": "Lato", "titleFontSize": 66, "titleFontWeight": "normal", "titleColor": "#6c6e78", "titleAngle": 270, "titleX": 81, "titleY": 28, "titleAlign": "right", "titleBaseline": "alphabetic"}}, "y2": {"field": "h6"}}},
{"mark": {"type": "area", "color": "#e5713a", "opacity": 0.1},
 "encoding": {"x": {"field": "e", "type": "quantitative", "scale": {"domain": [0, 99], "nice": false}, "axis": null},
  "y": {"field": "l7", "type": "quantitative", "scale": {"domain": [0, 100], "nice": false}, "axis": {"values": [0, 20, 40, 60, 80, 100], "grid": true, "gridColor": "#e6e6e6", "gridWidth": 2, "domain": false, "ticks": false, "tickSize": 0, "labelFont": "Lato", "labelFontSize": 60, "labelColor": "#6c6e78", "labelPadding": 72, "title": "Test Accuracy", "titleFont": "Lato", "titleFontSize": 66, "titleFontWeight": "normal", "titleColor": "#6c6e78", "titleAngle": 270, "titleX": 81, "titleY": 28, "titleAlign": "right", "titleBaseline": "alphabetic"}}, "y2": {"field": "h7"}}},
{"transform": [{"fold": ["fw4-bw2", "fw4-bw4", "fw4-bw6", "fw4-bw8", "fw2-bw4", "fw2-bw6", "fw2-bw8", "no-compression"], "as": ["run", "acc"]}],
 "mark": {"type": "line", "strokeJoin": "round"},
 "encoding": {
  "x": {"field": "e", "type": "quantitative", "scale": {"domain": [0, 99], "nice": false},
   "axis": {"orient": "bottom", "values": [0, 20, 40, 60, 80], "grid": false, "domain": true, "domainColor": "#e4e4e7", "domainWidth": 9, "ticks": true, "tickColor": "#e4e4e7", "tickWidth": 5, "tickSize": 28, "labelFont": "Lato", "labelFontSize": 60, "labelColor": "#6c6e78", "labelPadding": 44, "labelFlush": false, "title": "epoch", "titleFont": "Lato", "titleFontSize": 66, "titleFontWeight": "normal", "titleColor": "#6c6e78", "titleX": 1145, "titleY": -31, "titleAlign": "right", "titleBaseline": "alphabetic"}},
  "y": {"field": "acc", "type": "quantitative", "scale": {"domain": [0, 100], "nice": false},
   "axis": {"values": [0, 20, 40, 60, 80, 100], "grid": true, "gridColor": "#e6e6e6", "gridWidth": 2, "domain": false, "ticks": false, "tickSize": 0, "labelFont": "Lato", "labelFontSize": 60, "labelColor": "#6c6e78", "labelPadding": 72, "title": "Test Accuracy", "titleFont": "Lato", "titleFontSize": 66, "titleFontWeight": "normal", "titleColor": "#6c6e78", "titleAngle": 270, "titleX": 81, "titleY": 28, "titleAlign": "right", "titleBaseline": "alphabetic"}},
  "strokeWidth": {"value": 7},
  "stroke": {"field": "run", "type": "nominal",
   "scale": {"domain": ["fw4-bw2", "fw4-bw4", "fw4-bw6", "fw4-bw8", "fw2-bw4", "fw2-bw6", "fw2-bw8", "no-compression"], "range": ["#a5694f", "#87cebf", "#a0c75c", "#a1a8ab", "#edb732", "#936ecc", "#e5713a", "#5387dd"]},
   "legend": {"orient": "none", "legendX": -138, "legendY": -302, "direction": "horizontal", "columns": 3, "title": null,
    "values": ["fw4-bw2", "fw4-bw4", "fw4-bw6", "fw4-bw8", "fw2-bw4", "fw2-bw6"],
    "symbolType": "stroke", "symbolSize": 4096, "symbolStrokeWidth": 13, "symbolOpacity": 1,
    "labelFont": "DejaVu Sans Mono", "labelFontSize": 68, "labelOffset": 27, "labelLimit": 0, "columnPadding": 64, "rowPadding": 24,
    "labelColor": {"expr": "{'fw4-bw2':'#a5694f','fw4-bw4':'#5aac98','fw4-bw6':'#628033','fw4-bw8':'#6e777e','fw2-bw4':'#ebb935','fw2-bw6':'#9372cc','fw2-bw8':'#c9511c','no-compression':'#3b76d6'}[datum.value]"}}}
 }},
{"transform": [{"fold": ["fw4-bw2", "fw4-bw4", "fw4-bw6", "fw4-bw8", "fw2-bw4", "fw2-bw6", "fw2-bw8", "no-compression"], "as": ["run", "acc"]}, {"filter": "datum.e == 99"}],
 "mark": {"type": "point", "filled": true, "size": 500, "opacity": 1},
 "encoding": {
  "x": {"field": "e", "type": "quantitative", "scale": {"domain": [0, 99], "nice": false},
   "axis": {"orient": "bottom", "values": [0, 20, 40, 60, 80], "grid": false, "domain": false, "labels": false, "ticks": true, "tickColor": "#e4e4e7", "tickWidth": 5, "tickSize": -28, "title": null}},
  "y": {"field": "acc", "type": "quantitative", "scale": {"domain": [0, 100], "nice": false},
   "axis": {"values": [0, 20, 40, 60, 80, 100], "grid": true, "gridColor": "#e6e6e6", "gridWidth": 2, "domain": false, "ticks": false, "tickSize": 0, "labelFont": "Lato", "labelFontSize": 60, "labelColor": "#6c6e78", "labelPadding": 72, "title": "Test Accuracy", "titleFont": "Lato", "titleFontSize": 66, "titleFontWeight": "normal", "titleColor": "#6c6e78", "titleAngle": 270, "titleX": 81, "titleY": 28, "titleAlign": "right", "titleBaseline": "alphabetic"}},
  "fill": {"field": "run", "type": "nominal",
   "scale": {"domain": ["fw2-bw8", "no-compression", "fw4-bw2", "fw4-bw4", "fw4-bw6", "fw4-bw8", "fw2-bw4", "fw2-bw6"], "range": ["#e5713a", "#5387dd", "#a5694f", "#87cebf", "#a0c75c", "#a1a8ab", "#edb732", "#936ecc"]},
   "legend": {"orient": "none", "legendX": -37, "legendY": -107, "direction": "horizontal", "columns": 2, "title": null,
    "values": ["fw2-bw8", "no-compression"],
    "symbolType": "M-1,-0.2H1V0.2H-1Z", "symbolSize": 4096, "symbolStrokeWidth": 0, "symbolOpacity": 1,
    "labelFont": "DejaVu Sans Mono", "labelFontSize": 68, "labelOffset": 34, "labelLimit": 0, "columnPadding": 85, "rowPadding": 22,
    "labelColor": {"expr": "{'fw4-bw2':'#a5694f','fw4-bw4':'#5aac98','fw4-bw6':'#628033','fw4-bw8':'#6e777e','fw2-bw4':'#ebb935','fw2-bw6':'#9372cc','fw2-bw8':'#c9511c','no-compression':'#3b76d6'}[datum.value]"}}}
 }}
],
"resolve": {"axis": {"x": "independent"}}
}
